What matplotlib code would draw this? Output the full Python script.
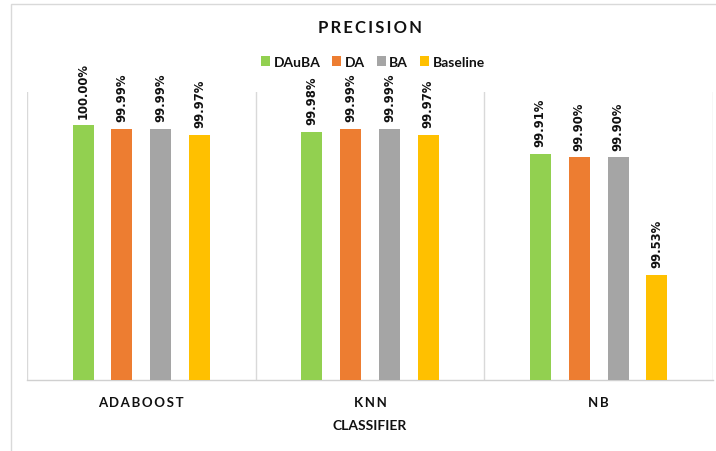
import matplotlib
matplotlib.use("Agg")
import matplotlib.pyplot as plt
from matplotlib.patches import Rectangle
import numpy as np

categories = ["ADABOOST", "KNN", "NB"]
series_names = ["DAuBA", "DA", "BA", "Baseline"]
dauba = [100.00, 99.98, 99.91]
da = [99.99, 99.99, 99.90]
ba = [99.99, 99.99, 99.90]
baseline = [99.97, 99.97, 99.53]
colors = ["#92D050", "#ED7D31", "#A5A5A5", "#FFC000"]

W, H = 716, 452
fig = plt.figure(figsize=(W / 100, H / 100), dpi=100)
fig.patch.set_facecolor("white")

# outer chart border (cropped at right/bottom)
fig.patches.append(Rectangle((11 / W, -0.1), 1.2, 1 - 5 / H + 0.1, transform=fig.transFigure,
                             fill=False, edgecolor="#D9D9D9", linewidth=1.0))

ax = fig.add_axes([27 / W, 1 - 381 / H, 686 / W, 288 / H])
ax.set_facecolor("white")

x = np.arange(len(categories))
step = 0.17
width = 0.092
all_series = [dauba, da, ba, baseline]
font_main = ["Lato", "DejaVu Sans"]
txt_color = "#111111"

for i, (vals, name, c) in enumerate(zip(all_series, series_names, colors)):
    pos = x + (i - 1.5) * step
    ax.bar(pos, vals, width=width, color=c, label=name, zorder=3)
    for p, v in zip(pos, vals):
        ax.annotate(f"{v:.2f}%", (p, v), xytext=(0, 5.5), textcoords="offset points",
                    rotation=90, ha="center", va="bottom", fontsize=8.4,
                    fontweight="bold", family="DejaVu Sans", color=txt_color)

ax.set_xlim(-0.5, 2.5)
ax.set_ylim(99.2, 100.105)
for b in [-0.5, 0.5, 1.5, 2.5]:
    ax.axvline(b, color="#D9D9D9", linewidth=1.0, zorder=1)
for s in ["top", "right", "left"]:
    ax.spines[s].set_visible(False)
ax.spines["bottom"].set_color("#D0D0D0")
ax.spines["bottom"].set_linewidth(1.0)
ax.set_xticks([])
ax.set_yticks([])

tr = ax.get_xaxis_transform()
sp = "\u2009"
for xi, cat in zip(x, categories):
    ax.text(xi, -(403 - 381) / 288, sp.join(cat), transform=tr, ha="center", va="center",
            fontsize=9.5, fontweight="bold", family=font_main, color=txt_color)
ax.text(1, -(426 - 381) / 288, "CLASSIFIER", transform=tr, ha="center", va="center",
        fontsize=10, fontweight="bold", family=font_main, color=txt_color)

fig.text(370 / W, 1 - 28 / H, sp.join("PRECISION"), ha="center", va="center",
         fontsize=12, fontweight="bold", family=font_main, color=txt_color)

leg = fig.legend(loc="center", bbox_to_anchor=(373 / W, 1 - 63 / H), ncol=4, frameon=False,
                 handlelength=0.65, handleheight=0.65, handletextpad=0.25, columnspacing=0.85,
                 prop={"family": font_main, "weight": "bold", "size": 10})
for t in leg.get_texts():
    t.set_color(txt_color)

fig.savefig("out.png", dpi=100, facecolor="white")
